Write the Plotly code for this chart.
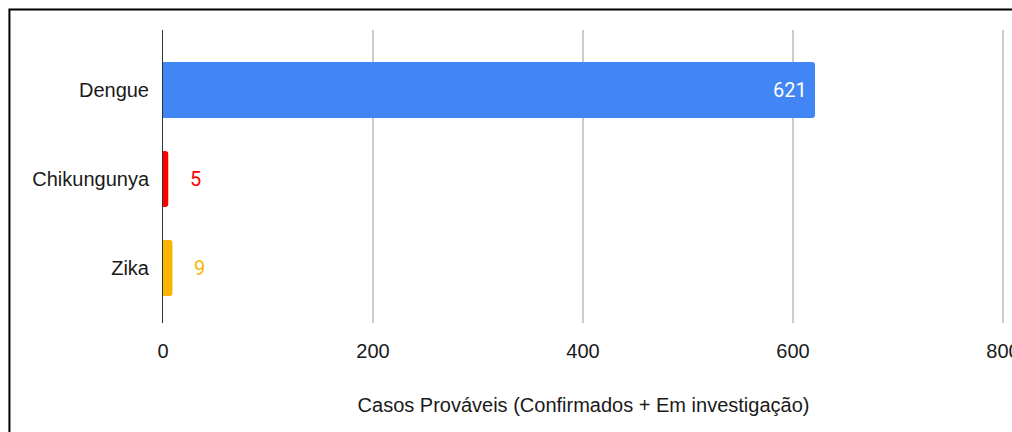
import plotly.graph_objects as go

doencas = ["Dengue", "Chikungunya", "Zika"]
casos = [621, 5, 9]
cores = ["#4285F4", "#FF0000", "#F9B600"]
ticks_x = [0, 200, 400, 600, 800]

fig = go.Figure()

fig.add_trace(
    go.Bar(
        x=casos,
        y=doencas,
        orientation="h",
        marker=dict(color=cores, line=dict(width=0)),
        width=0.63,
        hoverinfo="skip"
    )
)

# rótulos de valor
for d, c, cor in zip(doencas, casos, cores):
    if c > 100:
        fig.add_annotation(
            x=c, y=d, text=str(c), showarrow=False,
            xanchor="right", xshift=-6,
            font=dict(family="Roboto", size=20, color="white")
        )
    else:
        fig.add_annotation(
            x=c, y=d, text=str(c), showarrow=False,
            xanchor="left", xshift=20,
            font=dict(family="Roboto", size=20, color=cor)
        )

# moldura
fig.add_shape(
    type="rect", xref="paper", yref="paper",
    x0=-0.1826, x1=1.2, y0=-0.6, y1=1.07,
    line=dict(color="black", width=2), fillcolor="rgba(0,0,0,0)",
    layer="above"
)

fig.update_layout(
    width=1012,
    height=432,
    margin=dict(l=163, r=8, t=30, b=109, autoexpand=False),
    plot_bgcolor="white",
    paper_bgcolor="white",
    showlegend=False,
    barcornerradius=3,
    font=dict(family="Liberation Sans, Arial, sans-serif", size=20, color="#1a1a1a")
)

fig.update_xaxes(
    range=[0, 801],
    tickvals=ticks_x,
    showgrid=True,
    gridcolor="#cccccc",
    gridwidth=1.5,
    zeroline=False,
    showline=False,
    ticks="",
    automargin=False,
    ticklabelstandoff=14,
    ticklabeloverflow="allow",
    tickfont=dict(size=20, color="#1a1a1a"),
    title=dict(
        text="Casos Prováveis (Confirmados + Em investigação)",
        font=dict(size=20, color="#1a1a1a"),
        standoff=36
    )
)

fig.update_yaxes(
    range=[2.618, -0.674],
    showgrid=False,
    zeroline=False,
    showline=True,
    linecolor="#333333",
    linewidth=1,
    ticks="",
    automargin=False,
    ticklabelstandoff=9,
    tickfont=dict(size=20, color="#1a1a1a")
)

fig.write_html(
    "out.html",
    config=dict(displayModeBar=False),
    post_script="document.body.style.margin='0';document.body.style.overflow='hidden';"
)
